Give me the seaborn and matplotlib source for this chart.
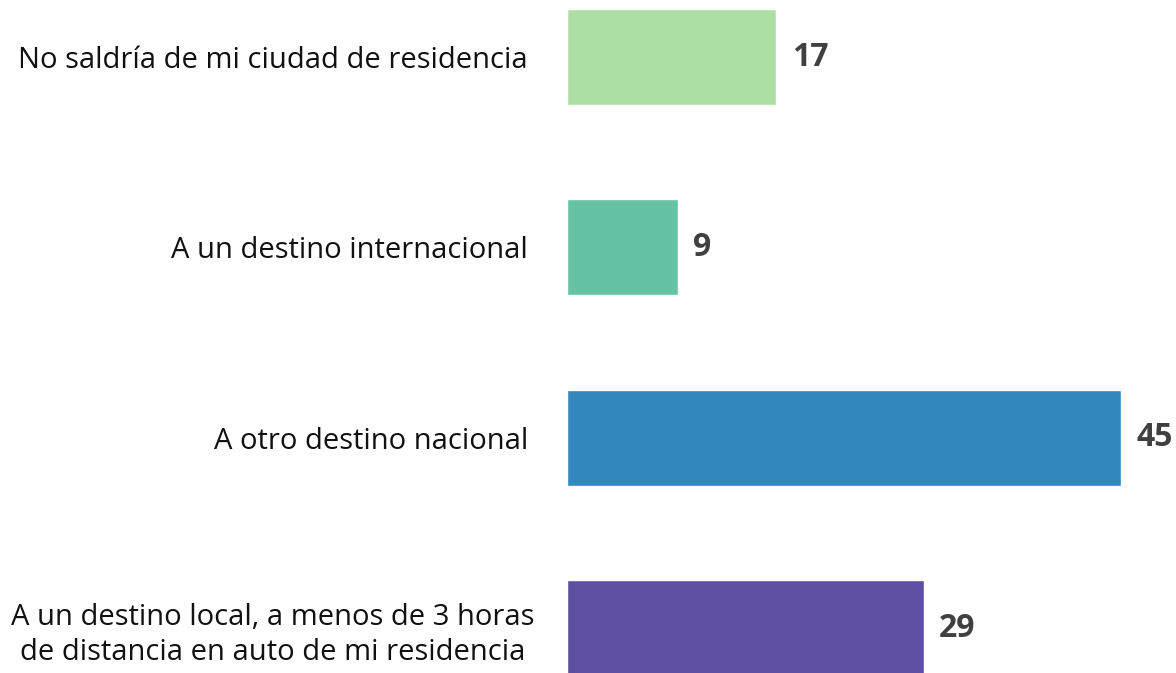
import matplotlib
matplotlib.use("Agg")
import matplotlib.pyplot as plt
import matplotlib.transforms as mtransforms
import seaborn as sns
import pandas as pd

categories = [
    "No saldría de mi ciudad de residencia",
    "A un destino internacional",
    "A otro destino nacional",
    "A un destino local, a menos de 3 horas\nde distancia en auto de mi residencia",
]
values = [17, 9, 45, 29]
colors = ["#addfa5", "#66c2a5", "#3288bd", "#5e4fa2"]

df = pd.DataFrame({"categoria": categories, "valor": values})

sns.set_style("white")
plt.rcParams["font.family"] = ["Open Sans", "DejaVu Sans"]

fig = plt.figure(figsize=(11.76, 6.73), dpi=100)
ax = fig.add_axes([567 / 1176, 0, (1121 - 567) / 1176, 1])

sns.barplot(data=df, x="valor", y="categoria", hue="categoria",
            palette=colors, saturation=1, orient="h", width=0.505,
            legend=False, ax=ax)

ax.set_xlim(0, 45)
ax.set_ylim(3.236, -0.2995)
ax.set_xlabel("")
ax.set_ylabel("")
ax.set_xticks([])
sns.despine(ax=ax, left=True, bottom=True)
ax.tick_params(axis="y", length=0, pad=28, labelsize=21, labelcolor="#111111")
for t in ax.get_yticklabels():
    t.set_multialignment("center")
    t.set_linespacing(1.3)

# the two-line label sits a little further right in the original
lbl = ax.get_yticklabels()[-1]
lbl.set_transform(lbl.get_transform() +
                  mtransforms.ScaledTranslation(0.06, 0, fig.dpi_scale_trans))

for c in ax.containers:
    ax.bar_label(c, padding=11, fontsize=23, fontweight="bold",
                 color="#404040", clip_on=False)

fig.savefig("out.png", dpi=100)
